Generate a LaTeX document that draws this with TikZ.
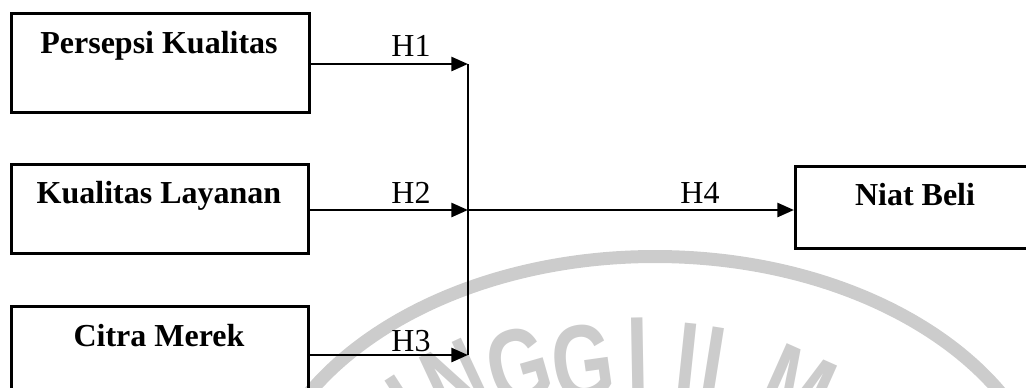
\documentclass[tikz,border=0pt]{standalone}
\usepackage{fontspec}
\setmainfont{Liberation Serif}
\newfontfamily\wmfont{Liberation Sans}
\usetikzlibrary{arrows.meta}
\definecolor{wmgray}{gray}{0.8}
\begin{document}
\begin{tikzpicture}[x=0.75pt,y=-0.75pt,
  box/.style={draw, line width=2pt, inner sep=0pt, anchor=north west},
  lab/.style={font=\fontsize{24}{28}\selectfont, anchor=base, inner sep=0pt},
  blab/.style={font=\fontsize{24}{28}\selectfont\bfseries, anchor=base, inner sep=0pt},
  arr/.style={line width=2pt, -{Triangle[length=12.5pt,width=10.5pt]}},
  vline/.style={line width=1.3pt},
  wmarc/.style={draw=wmgray, line width=9.75pt},
  wmletter/.style={text=wmgray, font=\wmfont\bfseries\fontsize{80}{80}\selectfont, anchor=north, inner sep=0pt, xscale=0.74}]
\useasboundingbox (0,0) rectangle (1026,387);
\clip (0,0) rectangle (1026,387);
% watermark
\draw[wmarc] (655,526) ellipse [x radius=298.125pt, y radius=202.125pt];
\node[rotate=33, wmletter] (w1) at (390,378) {I};
\node[rotate=25, wmletter] (w2) at (440,348) {N};
\node[rotate=16, wmletter] (w3) at (508,330) {G};
\node[rotate=8, wmletter] (w4) at (577,325) {G};
\node[rotate=1, wmletter] (w5) at (637,318) {I};
\node[rotate=-6, wmletter] (w6) at (691,323) {I};
\node[rotate=-9, wmletter] (w7) at (732,330) {L};
\node[rotate=-24, wmletter] (w8) at (812,355) {M};
% boxes
\node[box, minimum width=223.5pt, minimum height=74.25pt] (pk) at (10,12) {};
\node[box, minimum width=222.75pt, minimum height=66.75pt] (kl) at (10,163) {};
\node[box, minimum width=222.75pt, minimum height=74.25pt] (cm) at (10,305) {};
\node[box, minimum width=181.5pt, minimum height=61.5pt] (nb) at (794,165) {};
\node[blab] (pkt) at (159,53) {Persepsi Kualitas};
\node[blab] (klt) at (159,203) {Kualitas Layanan};
\node[blab] (cmt) at (159,346) {Citra Merek};
\node[blab] (nbt) at (915,205) {Niat Beli};
% junctions
\coordinate (j1) at (468,64);
\coordinate (j2) at (468,210);
\coordinate (j3) at (468,355);
\draw[vline] (j1) -- (j3);
\draw[arr] (pk.east |- j1) -- (j1);
\draw[arr] (kl.east |- j2) -- (j2);
\draw[arr] (cm.east |- j3) -- (j3);
\draw[arr] (j2) -- (nb.west |- j2);
\node[lab] (h1) at (411,56) {H1};
\node[lab] (h2) at (411,203) {H2};
\node[lab] (h3) at (411,351) {H3};
\node[lab] (h4) at (700,203) {H4};
\end{tikzpicture}
\end{document}
